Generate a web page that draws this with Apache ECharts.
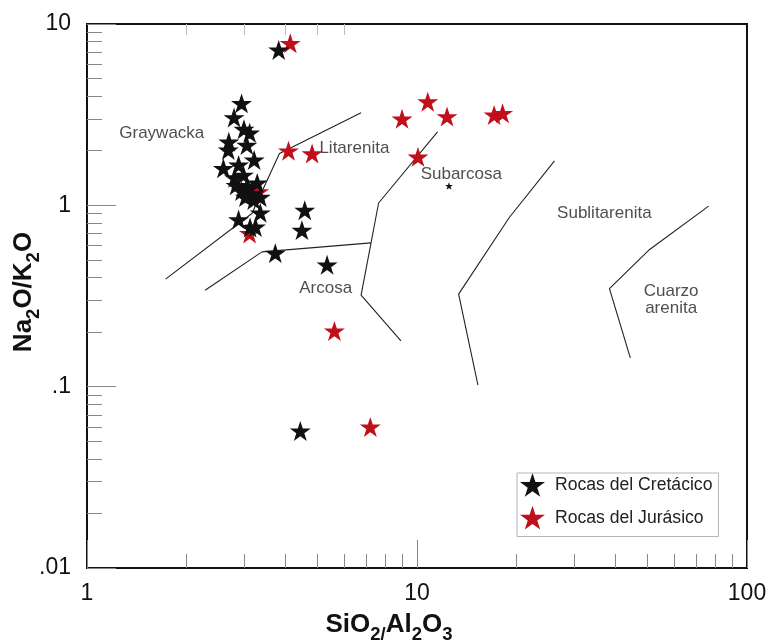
<!DOCTYPE html>
<html>
<head>
<meta charset="utf-8">
<script src="https://cdn.jsdelivr.net/npm/echarts@6/dist/echarts.min.js"></script>
<style>
html,body{margin:0;padding:0;background:#fff;}
#c{width:772px;height:642px;}
</style>
</head>
<body>
<div id="c"></div>
<script>
// ---- Data ----
const cretX = [3.81, 2.94, 2.79, 2.99, 3.11, 2.69, 3.05, 2.68, 3.21, 2.88, 2.59, 2.80, 2.98, 3.28, 2.94, 3.16, 3.35, 3.20, 3.35, 2.88, 3.12, 3.24, 4.57, 4.48, 3.72, 5.34, 4.43, 3.06, 2.83, 3.02];
const cretY = [7.19, 3.65, 3.05, 2.63, 2.51, 2.24, 2.15, 2.02, 1.78, 1.67, 1.60, 1.42, 1.47, 1.33, 1.20, 1.16, 1.11, 1.07, 0.91, 0.835, 0.755, 0.76, 0.94, 0.73, 0.545, 0.47, 0.057, 1.28, 1.29, 1.11];
const cretSmallX = [12.5];
const cretSmallY = [1.28];
const jurX = [4.13, 4.08, 4.81, 9.01, 10.78, 12.33, 17.13, 18.17, 10.07, 5.62, 7.22, 3.31, 3.11];
const jurY = [7.83, 2.00, 1.93, 3.00, 3.73, 3.09, 3.15, 3.22, 1.85, 0.203, 0.060, 1.19, 0.70];

const lineGraywacka = [[1.73, 0.392], [3.16, 0.902], [3.83, 1.93], [6.77, 3.24]];
const lineArcosa = [[2.28, 0.340], [3.39, 0.554], [7.26, 0.621]];
const lineSubarcosa = [[11.54, 2.54], [7.65, 1.03], [6.77, 0.320], [8.94, 0.179]];
const lineSublitarenita = [[26.1, 1.76], [19.04, 0.857], [13.37, 0.324], [15.3, 0.102]];
const lineCuarzo = [[76.5, 0.99], [50.7, 0.571], [38.3, 0.347], [44.3, 0.144]];

const regionNames = ['Graywacka', 'Litarenita', 'Arcosa', 'Subarcosa', 'Sublitarenita', 'Cuarzo\narenita'];
const regionX = [1.685, 6.46, 5.29, 13.62, 36.96, 58.9];
const regionY = [2.51, 2.07, 0.349, 1.486, 0.902, 0.30];

const xTickValues = [1, 10, 100];
const xTickLabels = ['1', '10', '100'];
const yTickValues = [0.01, 0.1, 1, 10];
const yTickLabels = ['.01', '.1', '1', '10'];
const xMinorTicks = [2, 3, 4, 5, 6, 7, 8, 9, 20, 30, 40, 50, 60, 70, 80, 90];
const yMinorTicks = [0.02, 0.03, 0.04, 0.05, 0.06, 0.07, 0.08, 0.09, 0.2, 0.3, 0.4, 0.5, 0.6, 0.7, 0.8, 0.9, 2, 3, 4, 5, 6, 7, 8, 9];
const xTopTicks = [2, 3, 4, 5, 6];

const seriesNames = ['Rocas del Cretácico', 'Rocas del Jurásico'];

// ---- Chart ----
const FONT = "'Liberation Sans', Arial, sans-serif";
const STAR = 'path://M50 0L61.23 34.55L97.55 34.55L68.16 55.9L79.39 90.45L50 69.1L20.61 90.45L31.84 55.9L2.45 34.55L38.77 34.55Z';
const RED = '#c0101b';
const BLACK = '#111';
const zip = (xs, ys) => xs.map((x, i) => [x, ys[i]]);
function lookup(vals, labels, v) {
  for (let i = 0; i < vals.length; i++) {
    if (Math.abs(Math.log10(v) - Math.log10(vals[i])) < 1e-6) return labels[i];
  }
  return '';
}
const lineStyleB = { color: '#222', width: 1.1 };
function boundary(data) {
  return { type: 'line', data: data, symbol: 'none', silent: true, lineStyle: lineStyleB, z: 1, animation: false };
}
function overlayAxis(pos, min, max, len, color, vals) {
  return {
    type: 'value', min: min, max: max, position: pos, gridIndex: 0,
    axisLine: { show: false, onZero: false },
    axisTick: { show: true, inside: true, length: len, lineStyle: { color: color, width: 1 }, customValues: vals.map(v => Math.log10(v)) },
    axisLabel: { show: false },
    splitLine: { show: false }
  };
}
const nameRich = {
  n: { fontFamily: FONT, fontSize: 26, fontWeight: 'bold', color: '#111', lineHeight: 32, verticalAlign: 'top' },
  s: { fontFamily: FONT, fontSize: 18.5, fontWeight: 'bold', color: '#111', lineHeight: 18, verticalAlign: 'bottom' }
};

const chart = echarts.init(document.getElementById('c'), null, { renderer: 'canvas' });
chart.setOption({
  animation: false,
  backgroundColor: '#fff',
  textStyle: { fontFamily: FONT },
  grid: { show: true, borderColor: '#111', borderWidth: 2, backgroundColor: 'transparent',
          left: 87, top: 24, right: 25, bottom: 74, containLabel: false, outerBoundsMode: 'none' },
  legend: {
    data: [
      { name: seriesNames[0], icon: STAR, itemStyle: { color: BLACK, opacity: 1 } },
      { name: seriesNames[1], icon: STAR, itemStyle: { color: RED, opacity: 1 } }
    ],
    orient: 'vertical',
    left: 517, top: 473,
    itemWidth: 25, itemHeight: 25, itemGap: 9,
    padding: [0, 6, 7, 3],
    borderColor: '#b5b5b5', borderWidth: 1,
    backgroundColor: '#fff',
    textStyle: { fontFamily: FONT, fontSize: 17.6, color: '#222', padding: [0, 0, 0, 5] },
    selectedMode: false
  },
  xAxis: [
    {
      type: 'log', logBase: 10, min: 1, max: 100, position: 'bottom',
      axisLine: { show: true, onZero: false, lineStyle: { color: '#111', width: 2 } },
      axisTick: { show: true, inside: true, length: 28, lineStyle: { color: '#888', width: 1 } },
      axisLabel: { fontFamily: FONT, fontSize: 23, color: '#111', margin: 14, formatter: v => lookup(xTickValues, xTickLabels, v) },
      splitLine: { show: false },
      name: '{n|SiO}{s|2/}{n|Al}{s|2}{n|O}{s|3}',
      nameLocation: 'middle', nameGap: 44, nameMoveOverlap: false,
      nameTextStyle: { padding: [0, 56, 0, 0], rich: nameRich }
    },
    overlayAxis('bottom', 0, 2, 14, '#888', xMinorTicks),
    overlayAxis('top', 0, 2, 11, '#bbb', xTopTicks)
  ],
  yAxis: [
    {
      type: 'log', logBase: 10, min: 0.01, max: 10, position: 'left',
      axisLine: { show: true, onZero: false, lineStyle: { color: '#111', width: 2 } },
      axisTick: { show: true, inside: true, length: 29, lineStyle: { color: '#888', width: 1 } },
      axisLabel: { fontFamily: FONT, fontSize: 23, color: '#111', margin: 16, formatter: v => lookup(yTickValues, yTickLabels, v) },
      splitLine: { show: false },
      name: '{n|Na}{s|2}{n|O/K}{s|2}{n|O}',
      nameLocation: 'middle', nameGap: 44, nameRotate: 90, nameMoveOverlap: false,
      nameTextStyle: { padding: [0, 0, 0, 8], rich: nameRich }
    },
    overlayAxis('left', -2, 1, 15, '#888', yMinorTicks)
  ],
  series: [
    boundary(lineGraywacka),
    boundary(lineArcosa),
    boundary(lineSubarcosa),
    boundary(lineSublitarenita),
    boundary(lineCuarzo),
    {
      type: 'scatter', name: 'regions', silent: true, symbolSize: 0, z: 1,
      data: regionNames.map((n, i) => ({ name: n, value: [regionX[i], regionY[i]] })),
      label: { show: true, position: 'inside', formatter: p => p.name, fontFamily: FONT, fontSize: 17, color: '#222', lineHeight: 17 }
    },
    {
      type: 'scatter', name: seriesNames[1], symbol: STAR, symbolSize: 21, symbolKeepAspect: true,
      itemStyle: { color: RED, opacity: 1 }, z: 2,
      data: zip(jurX, jurY)
    },
    {
      type: 'scatter', name: seriesNames[0], symbol: STAR, symbolSize: 21, symbolKeepAspect: true,
      itemStyle: { color: BLACK, opacity: 1 }, z: 3,
      data: zip(cretX, cretY)
    },
    {
      type: 'scatter', name: seriesNames[0], symbol: STAR, symbolSize: 8, symbolKeepAspect: true,
      itemStyle: { color: BLACK, opacity: 1 }, z: 3,
      data: zip(cretSmallX, cretSmallY)
    }
  ]
});
</script>
</body>
</html>
